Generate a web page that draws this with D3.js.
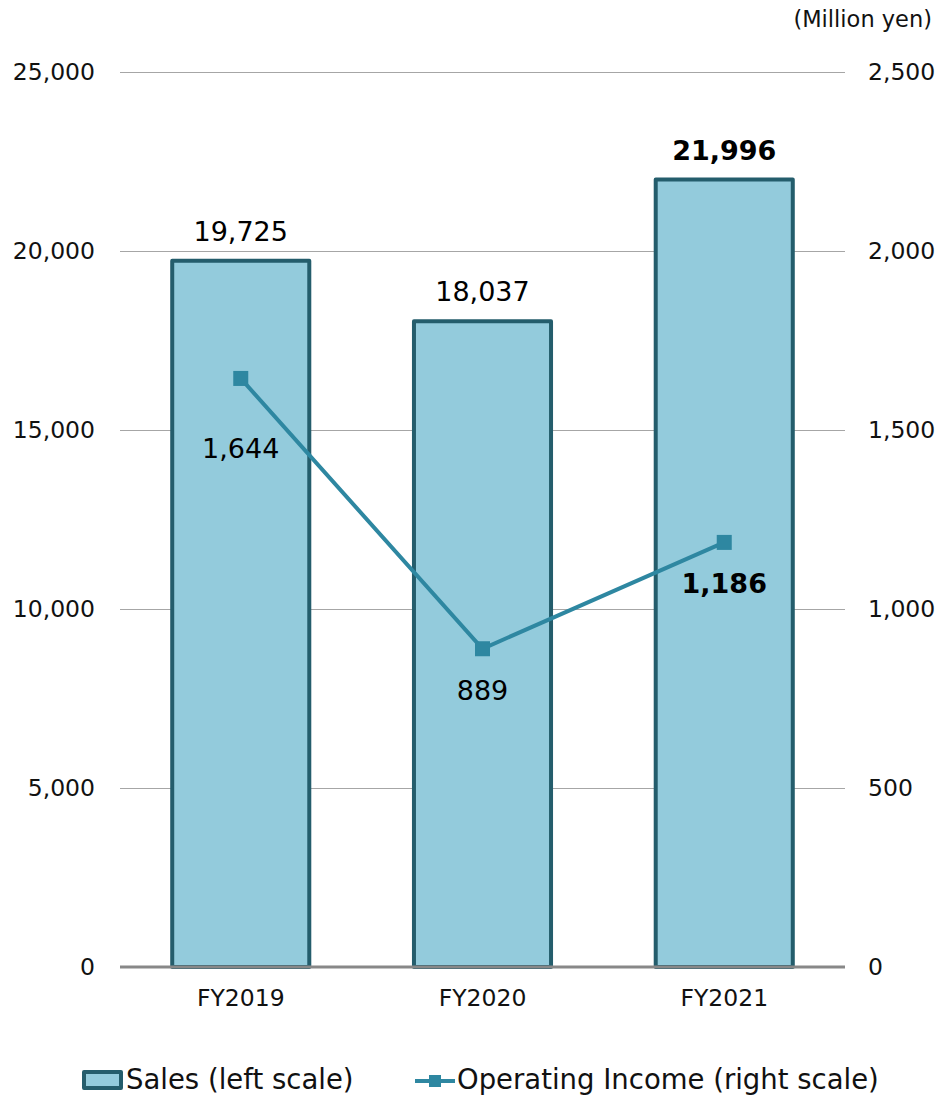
<!DOCTYPE html>
<html>
<head>
<meta charset="utf-8">
<script src="https://cdn.jsdelivr.net/npm/d3@7"></script>
<style>
  html, body { margin: 0; padding: 0; background: #fff; }
  svg { display: block; font-family: "DejaVu Sans", Verdana, sans-serif; }
</style>
</head>
<body>
<svg id="chart" width="940" height="1096"></svg>
<script>
// Fiscal years and results (million yen)
const years = ["FY2019", "FY2020", "FY2021"];
const sales = [19725, 18037, 21996];
const operatingIncome = [1644, 889, 1186];
const leftTicks = [0, 5000, 10000, 15000, 20000, 25000];
const rightTicks = [0, 500, 1000, 1500, 2000, 2500];
const boldYear = "FY2021";

const svg = d3.select("#chart");
const plot = { left: 120, right: 845, top: 72, bottom: 967 };

const x = d3.scaleBand().domain(years).range([plot.left, plot.right]).paddingInner(0.433).paddingOuter(0.216);
const yLeft = d3.scaleLinear().domain([0, 25000]).range([plot.bottom, plot.top]);
const yRight = d3.scaleLinear().domain([0, 2500]).range([plot.bottom, plot.top]);
const fmt = d3.format(",");

const BAR_FILL = "#93cbdc", BAR_STROKE = "#245d6c", LINE = "#2e87a1";

// shared styling for axis label groups
const styleLabels = g => {
  g.attr("font-family", null).attr("font-size", null);
  g.selectAll("text").attr("font-size", 23.5).attr("fill", "#111");
};

// gridlines
svg.append("g")
  .attr("transform", `translate(${plot.left},0)`)
  .call(d3.axisLeft(yLeft).tickValues(leftTicks.filter(d => d > 0)).tickSize(-(plot.right - plot.left)).tickFormat(""))
  .call(g => g.select(".domain").remove())
  .call(g => g.selectAll("line").attr("stroke", "#a6a6a6").attr("stroke-width", 1));

// left axis labels
svg.append("g")
  .attr("transform", `translate(${plot.left},0)`)
  .call(d3.axisLeft(yLeft).tickValues(leftTicks).tickSize(0).tickPadding(25).tickFormat(fmt))
  .call(g => g.select(".domain").remove())
  .call(styleLabels);

// right axis labels
svg.append("g")
  .attr("transform", `translate(${plot.right},0)`)
  .call(d3.axisRight(yRight).tickValues(rightTicks).tickSize(0).tickPadding(23).tickFormat(fmt))
  .call(g => g.select(".domain").remove())
  .call(styleLabels);

// unit
svg.append("text")
  .attr("x", 932).attr("y", 20).attr("text-anchor", "end").attr("dominant-baseline", "middle")
  .attr("font-size", 22.5).attr("fill", "#111").text("(Million yen)");

// bars
svg.append("g").selectAll("rect").data(years).join("rect")
  .attr("x", d => x(d))
  .attr("y", (d, i) => yLeft(sales[i]))
  .attr("width", x.bandwidth())
  .attr("height", (d, i) => yLeft(0) - yLeft(sales[i]))
  .attr("fill", BAR_FILL).attr("stroke", BAR_STROKE).attr("stroke-width", 4)
  .attr("stroke-linejoin", "round");

// baseline / category axis
svg.append("g")
  .attr("transform", `translate(0,${plot.bottom})`)
  .call(d3.axisBottom(x).tickSize(0).tickPadding(22))
  .call(g => g.select(".domain").attr("stroke", "#888").attr("stroke-width", 3)
    .attr("d", `M${plot.left},0H${plot.right}`))
  .call(styleLabels);

// sales labels
svg.append("g").selectAll("text").data(years).join("text")
  .attr("x", d => x(d) + x.bandwidth() / 2)
  .attr("y", (d, i) => yLeft(sales[i]) - 20)
  .attr("text-anchor", "middle")
  .attr("font-size", 27)
  .attr("font-weight", d => d === boldYear ? "bold" : "normal")
  .attr("fill", "#000")
  .text((d, i) => fmt(sales[i]));

// operating income line
const cx = d => x(d) + x.bandwidth() / 2;
const line = d3.line().x(d => cx(d)).y((d, i) => yRight(operatingIncome[i]));
svg.append("path").datum(years)
  .attr("d", line).attr("fill", "none").attr("stroke", LINE).attr("stroke-width", 4);

const marker = 15;
svg.append("g").selectAll("rect").data(years).join("rect")
  .attr("x", d => cx(d) - marker / 2)
  .attr("y", (d, i) => yRight(operatingIncome[i]) - marker / 2)
  .attr("width", marker).attr("height", marker)
  .attr("fill", LINE);

// operating income labels (first one sits lower to clear the descending segment)
const labelGap = { FY2019: 80, FY2020: 51, FY2021: 51 };
svg.append("g").selectAll("text").data(years).join("text")
  .attr("x", cx)
  .attr("y", (d, i) => yRight(operatingIncome[i]) + labelGap[d])
  .attr("text-anchor", "middle")
  .attr("font-size", 27)
  .attr("font-weight", d => d === boldYear ? "bold" : "normal")
  .attr("fill", "#000")
  .text((d, i) => fmt(operatingIncome[i]));

// legend
const lg = svg.append("g").attr("transform", "translate(0,1081)");
lg.append("rect").attr("x", 84).attr("y", -9).attr("width", 37).attr("height", 16)
  .attr("fill", BAR_FILL).attr("stroke", BAR_STROKE).attr("stroke-width", 4).attr("stroke-linejoin", "round");
lg.append("text").attr("x", 126).attr("y", 0).attr("dominant-baseline", "middle")
  .attr("font-size", 27.5).attr("fill", "#111").text("Sales (left scale)");
lg.append("line").attr("x1", 415).attr("x2", 455).attr("y1", 0).attr("y2", 0)
  .attr("stroke", LINE).attr("stroke-width", 4);
lg.append("rect").attr("x", 429).attr("y", -6).attr("width", 12).attr("height", 12).attr("fill", LINE);
lg.append("text").attr("x", 457).attr("y", 0).attr("dominant-baseline", "middle")
  .attr("font-size", 27.5).attr("fill", "#111").text("Operating Income (right scale)");
</script>
</body>
</html>
